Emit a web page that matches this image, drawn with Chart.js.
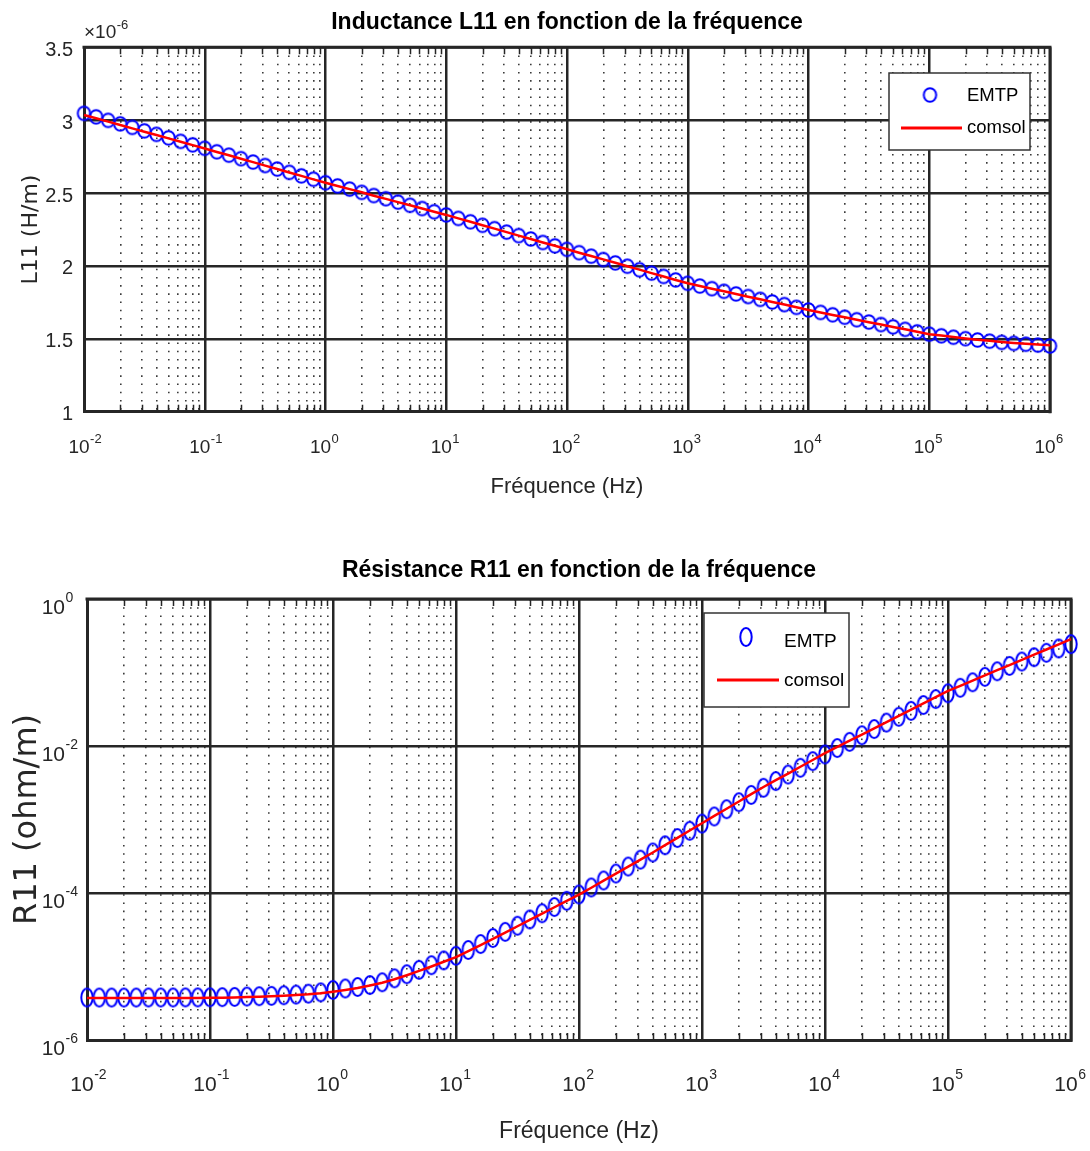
<!DOCTYPE html>
<html><head><meta charset="utf-8">
<script src="https://cdn.jsdelivr.net/npm/chart.js@4.4.1/dist/chart.umd.min.js"></script>
<style>
html,body{margin:0;padding:0;background:#fff;}
#wrap{position:relative;width:1090px;height:1151px;}
.box{position:absolute;left:0;width:1090px;}
#b1{top:0;height:520px;} #b2{top:520px;height:631px;}
</style></head><body>
<div id="wrap"><div class="box" id="b1"><canvas id="c1"></canvas></div><div class="box" id="b2"><canvas id="c2"></canvas></div></div>
<script>
// ---------- data ----------
const frequencies = [
  0.01, 0.01259, 0.01585, 0.01995, 0.02512, 0.03162, 0.03981, 0.05012, 0.0631, 0.07943,
  0.1, 0.1259, 0.1585, 0.1995, 0.2512, 0.3162, 0.3981, 0.5012, 0.631, 0.7943,
  1, 1.259, 1.585, 1.995, 2.512, 3.162, 3.981, 5.012, 6.31, 7.943,
  10, 12.59, 15.85, 19.95, 25.12, 31.62, 39.81, 50.12, 63.1, 79.43,
  100, 125.9, 158.5, 199.5, 251.2, 316.2, 398.1, 501.2, 631, 794.3,
  1000, 1259, 1585, 1995, 2512, 3162, 3981, 5012, 6310, 7943,
  10000, 12590, 15850, 19950, 25120, 31620, 39810, 50120, 63100, 79430,
  100000, 125900, 158500, 199500, 251200, 316200, 398100, 501200, 631000, 794300,
  1000000
];
// L11 in units of 1e-6 H/m
const emtpL11 = [
  3.047, 3.023, 2.999, 2.975, 2.951, 2.927, 2.903, 2.879, 2.855, 2.831,
  2.807, 2.783, 2.760, 2.736, 2.713, 2.689, 2.665, 2.642, 2.618, 2.595,
  2.571, 2.549, 2.527, 2.505, 2.483, 2.461, 2.438, 2.416, 2.394, 2.372,
  2.350, 2.326, 2.303, 2.279, 2.256, 2.232, 2.208, 2.185, 2.161, 2.138,
  2.114, 2.091, 2.067, 2.044, 2.021, 1.998, 1.974, 1.951, 1.928, 1.904,
  1.881, 1.862, 1.844, 1.826, 1.808, 1.790, 1.771, 1.753, 1.735, 1.716,
  1.698, 1.681, 1.665, 1.648, 1.631, 1.615, 1.598, 1.582, 1.565, 1.548,
  1.532, 1.521, 1.511, 1.501, 1.492, 1.484, 1.476, 1.469, 1.463, 1.457,
  1.451
];
const comsolL11 = [
  3.036, 3.013, 2.990, 2.967, 2.944, 2.921, 2.898, 2.875, 2.852, 2.829,
  2.806, 2.782, 2.759, 2.735, 2.712, 2.688, 2.665, 2.641, 2.618, 2.594,
  2.571, 2.549, 2.527, 2.505, 2.482, 2.460, 2.438, 2.416, 2.394, 2.372,
  2.350, 2.326, 2.303, 2.279, 2.256, 2.232, 2.208, 2.185, 2.161, 2.138,
  2.114, 2.091, 2.068, 2.045, 2.022, 1.998, 1.975, 1.951, 1.928, 1.904,
  1.881, 1.862, 1.844, 1.826, 1.808, 1.789, 1.771, 1.753, 1.735, 1.716,
  1.698, 1.681, 1.664, 1.648, 1.631, 1.614, 1.598, 1.581, 1.565, 1.548,
  1.532, 1.522, 1.512, 1.503, 1.494, 1.486, 1.479, 1.472, 1.466, 1.461,
  1.456
];
// R11 in ohm/m
const emtpR11 = [
  3.78e-6, 3.78e-6, 3.78e-6, 3.78e-6, 3.78e-6, 3.79e-6, 3.79e-6, 3.79e-6, 3.80e-6, 3.80e-6,
  3.81e-6, 3.83e-6, 3.86e-6, 3.90e-6, 3.94e-6, 3.99e-6, 4.06e-6, 4.15e-6, 4.27e-6, 4.45e-6,
  4.80e-6, 5.02e-6, 5.27e-6, 5.60e-6, 6.10e-6, 6.90e-6, 7.85e-6, 9.00e-6, 1.04e-5, 1.21e-5,
  1.40e-5, 1.68e-5, 2.02e-5, 2.44e-5, 2.96e-5, 3.59e-5, 4.36e-5, 5.30e-5, 6.44e-5, 7.83e-5,
  9.55e-5, 1.19e-4, 1.48e-4, 1.84e-4, 2.29e-4, 2.84e-4, 3.56e-4, 4.46e-4, 5.60e-4, 7.02e-4,
  8.79e-4, 1.10e-3, 1.38e-3, 1.72e-3, 2.16e-3, 2.70e-3, 3.33e-3, 4.09e-3, 5.05e-3, 6.22e-3,
  7.67e-3, 9.38e-3, 1.14e-2, 1.40e-2, 1.70e-2, 2.08e-2, 2.50e-2, 3.01e-2, 3.61e-2, 4.35e-2,
  5.22e-2, 6.19e-2, 7.36e-2, 8.73e-2, 0.1038, 0.1230, 0.1409, 0.1614, 0.1854, 0.2123,
  0.2432
];
const comsolR11 = [
  3.72e-6, 3.72e-6, 3.72e-6, 3.72e-6, 3.72e-6, 3.72e-6, 3.72e-6, 3.73e-6, 3.73e-6, 3.74e-6,
  3.75e-6, 3.77e-6, 3.80e-6, 3.84e-6, 3.88e-6, 3.93e-6, 4.00e-6, 4.08e-6, 4.19e-6, 4.34e-6,
  4.55e-6, 4.80e-6, 5.10e-6, 5.50e-6, 6.00e-6, 6.70e-6, 7.60e-6, 8.70e-6, 1.00e-5, 1.16e-5,
  1.34e-5, 1.62e-5, 1.96e-5, 2.38e-5, 2.90e-5, 3.53e-5, 4.30e-5, 5.25e-5, 6.40e-5, 7.80e-5,
  9.50e-5, 1.18e-4, 1.47e-4, 1.83e-4, 2.28e-4, 2.84e-4, 3.56e-4, 4.48e-4, 5.63e-4, 7.08e-4,
  8.90e-4, 1.12e-3, 1.40e-3, 1.76e-3, 2.21e-3, 2.77e-3, 3.43e-3, 4.22e-3, 5.22e-3, 6.45e-3,
  7.98e-3, 9.70e-3, 1.18e-2, 1.43e-2, 1.74e-2, 2.11e-2, 2.57e-2, 3.13e-2, 3.80e-2, 4.61e-2,
  5.61e-2, 6.59e-2, 7.76e-2, 9.12e-2, 0.1074, 0.1262, 0.1486, 0.1746, 0.2056, 0.2415,
  0.2844
];
const freqDecades = [1e-2, 1e-1, 1, 10, 100, 1e3, 1e4, 1e5, 1e6];
const minorMantissas = [2, 3, 4, 5, 6, 7, 8, 9];
const l11Ticks = [1, 1.5, 2, 2.5, 3, 3.5];
const r11Ticks = [1e-6, 1e-4, 1e-2, 1];
const seriesNames = ['EMTP', 'comsol'];

// ---------- helpers ----------
const SANS = "'Liberation Sans', Arial, sans-serif";
const WIDE = "'DejaVu Sans', Verdana, sans-serif";
const TXT = '#262626';
function expOf(v){ return Math.round(Math.log10(v)); }
function isDecade(v){ const l = Math.log10(v); return Math.abs(l - Math.round(l)) < 1e-9; }
const xTickValues = [];
freqDecades.forEach((d, i) => { xTickValues.push(d); if (i < freqDecades.length - 1) minorMantissas.forEach(m => xTickValues.push(m * d)); });

function ellipseMarker(rx, ry, lw, color){
  const c = document.createElement('canvas');
  c.width = Math.ceil(2*rx + lw + 2); c.height = Math.ceil(2*ry + lw + 2);
  const g = c.getContext('2d');
  g.strokeStyle = color; g.lineWidth = lw;
  g.beginPath(); g.ellipse(c.width/2, c.height/2, rx, ry, 0, 0, Math.PI*2); g.stroke();
  return c;
}

const matlabPlugin = {
  id: 'matlab',
  beforeDatasetsDraw(chart, args, o){
    const {ctx, chartArea: a, scales} = chart;
    ctx.save();
    ctx.strokeStyle = TXT; ctx.lineWidth = 1.5;
    scales.x.ticks.forEach(t => {
      if (t.major) return;
      const px = Math.round(scales.x.getPixelForValue(t.value)) + 0.5;
      ctx.beginPath();
      ctx.moveTo(px, a.bottom); ctx.lineTo(px, a.bottom - 7);
      ctx.moveTo(px, a.top); ctx.lineTo(px, a.top + 7);
      ctx.stroke();
    });
    ctx.lineWidth = 3; ctx.strokeStyle = TXT;
    ctx.beginPath(); ctx.moveTo(a.left - 1.5, a.top); ctx.lineTo(a.right, a.top); ctx.lineTo(a.right, a.bottom + 1.5); ctx.stroke();
    ctx.restore();
  },
  afterDraw(chart, args, o){
    const ctx = chart.ctx;
    const sx = chart.scales.x, sy = chart.scales.y;
    ctx.save();
    ctx.fillStyle = TXT; ctx.textBaseline = 'middle'; ctx.textAlign = 'left';
    // superscript exponents of the x tick labels "10"
    if (o.xExp) {
      const e = o.xExp, xt = sx.options.ticks;
      ctx.font = e.base + 'px ' + SANS;
      const w10 = ctx.measureText('10').width;
      const midY = sx.top + xt.padding + e.base * 1.2 / 2;
      ctx.font = e.size + 'px ' + SANS;
      sx.ticks.forEach(t => {
        if (!isDecade(t.value)) return;
        const cx = sx.getPixelForValue(t.value) + xt.labelOffset;
        ctx.fillText(String(expOf(t.value)), cx + w10 / 2 + 0.5, midY - e.rise);
      });
    }
    if (o.yExp) {
      const e = o.yExp, yt = sy.options.ticks;
      ctx.font = e.size + 'px ' + SANS;
      const rx = sy.right - yt.padding;
      sy.ticks.forEach(t => {
        const py = sy.getPixelForValue(t.value) + yt.labelOffset;
        ctx.fillText(String(expOf(t.value)), rx + 0.5, py - e.rise);
      });
    }
    if (o.exponent) {
      const e = o.exponent;
      ctx.font = e.base + 'px ' + SANS;
      ctx.fillText('\u00D710', e.x, e.y);
      const w = ctx.measureText('\u00D710').width;
      ctx.font = e.size + 'px ' + SANS;
      ctx.fillText(e.text, e.x + w + 0.5, e.y - e.rise);
    }
    const L = o.legend;
    if (L) {
      ctx.fillStyle = '#fff'; ctx.fillRect(L.x, L.y, L.w, L.h);
      ctx.strokeStyle = '#333'; ctx.lineWidth = 1.5; ctx.strokeRect(L.x, L.y, L.w, L.h);
      const ds = chart.data.datasets;
      const img = ds[0].pointStyle;
      ctx.drawImage(img, L.mx - img.width/2, L.my - img.height/2);
      ctx.strokeStyle = ds[1].borderColor; ctx.lineWidth = 3;
      ctx.beginPath(); ctx.moveTo(L.lx1, L.ly); ctx.lineTo(L.lx2, L.ly); ctx.stroke();
      ctx.fillStyle = '#000'; ctx.font = L.font; ctx.textBaseline = 'middle'; ctx.textAlign = 'left';
      ctx.fillText(ds[0].label, L.tx, L.ty1);
      ctx.fillText(ds[1].label, L.tx2, L.ty2);
    }
    ctx.restore();
  }
};

function xAxis(o){
  return {
    type: 'logarithmic', min: 1e-2, max: 1e6,
    afterBuildTicks: s => { s.ticks = xTickValues.map(v => ({value: v, major: isDecade(v)})); },
    afterFit: s => { s.height = o.height; s.paddingLeft = 0; s.paddingRight = 0; },
    ticks: { autoSkip: false, maxRotation: 0, minRotation: 0, color: TXT, padding: o.tickPad, labelOffset: -5,
      font: {family: SANS, size: o.tickSize, lineHeight: 1.2},
      callback: v => isDecade(v) ? '10' : '' },
    grid: { drawTicks: false,
      color: c => (c.tick && c.tick.major) ? '#262626' : '#3a3a3a',
      lineWidth: c => (c.tick && c.tick.major) ? 2.5 : 1.6 },
    border: { display: true, color: TXT, width: 3,
      dash: c => (c.tick && !c.tick.major) ? [1.6, 6.6] : [] },
    title: { display: true, text: 'Fréquence (Hz)', color: TXT,
      font: {family: SANS, size: o.titleSize, lineHeight: 1.2}, padding: {top: 0, bottom: o.titlePad} }
  };
}

// ---------- top chart ----------
const mk1 = ellipseMarker(6.2, 6.8, 2, '#0000ff');
new Chart(document.getElementById('c1'), {
  type: 'scatter',
  data: { datasets: [
    { label: seriesNames[0], data: frequencies.map((f, i) => ({x: f, y: emtpL11[i]})),
      pointStyle: mk1, pointRadius: 6, borderColor: '#0000ff', backgroundColor: 'transparent', showLine: false, clip: false, order: 2 },
    { label: seriesNames[1], data: frequencies.map((f, i) => ({x: f, y: comsolL11[i]})),
      showLine: true, pointRadius: 0, borderColor: '#ff0000', borderWidth: 2.5, clip: false, order: 1 }
  ]},
  options: {
    responsive: true, maintainAspectRatio: false, animation: false,
    layout: { padding: {left: 0, right: 40, top: 0, bottom: 0} },
    plugins: {
      legend: {display: false}, tooltip: {enabled: false},
      title: { display: true, fullSize: false, text: 'Inductance L11 en fonction de la fréquence', color: '#000',
        font: {family: SANS, size: 23, weight: 'bold', lineHeight: 1.2}, padding: {top: 9.2, bottom: 10.5} },
      matlab: {
        xExp: {base: 19, size: 13, rise: 8},
        exponent: {text: '-6', x: 84, y: 33, base: 19, size: 13, rise: 8},
        legend: {x: 889, y: 73, w: 141, h: 77, mx: 930, my: 95, lx1: 901, lx2: 962, ly: 128,
          tx: 967, ty1: 96, tx2: 967, ty2: 128, font: "18.5px " + SANS} }
    },
    scales: {
      x: xAxis({height: 108.3, tickPad: 24.5, tickSize: 19, titleSize: 22, titlePad: 20}),
      y: {
        type: 'linear', min: 1, max: 3.5,
        afterBuildTicks: s => { s.ticks = l11Ticks.map(v => ({value: v})); },
        afterFit: s => { s.width = 84; },
        ticks: { color: TXT, padding: 11, labelOffset: 3, font: {family: SANS, size: 20},
          callback: v => String(v) },
        grid: { drawTicks: false, color: '#262626', lineWidth: 2.5 },
        border: { display: true, color: TXT, width: 3 },
        title: { display: true, text: 'L11 (H/m)', color: TXT, font: {family: WIDE, size: 22, lineHeight: 1.2},
          padding: {top: 17.8, bottom: 0} }
      }
    }
  },
  plugins: [matlabPlugin]
});

// ---------- bottom chart ----------
const mk2 = ellipseMarker(5.7, 9, 2, '#0000ff');
new Chart(document.getElementById('c2'), {
  type: 'scatter',
  data: { datasets: [
    { label: seriesNames[0], data: frequencies.map((f, i) => ({x: f, y: emtpR11[i]})),
      pointStyle: mk2, pointRadius: 6, borderColor: '#0000ff', backgroundColor: 'transparent', showLine: false, clip: false, order: 2 },
    { label: seriesNames[1], data: frequencies.map((f, i) => ({x: f, y: comsolR11[i]})),
      showLine: true, pointRadius: 0, borderColor: '#ff0000', borderWidth: 2.5, clip: false, order: 1 }
  ]},
  options: {
    responsive: true, maintainAspectRatio: false, animation: false,
    layout: { padding: {left: 0, right: 19, top: 0, bottom: 0} },
    plugins: {
      legend: {display: false}, tooltip: {enabled: false},
      title: { display: true, fullSize: false, text: 'Résistance R11 en fonction de la fréquence', color: '#000',
        font: {family: SANS, size: 23, weight: 'bold', lineHeight: 1.2}, padding: {top: 37.2, bottom: 14.2} },
      matlab: {
        xExp: {base: 21, size: 14, rise: 10},
        yExp: {size: 14, rise: 10},
        legend: {x: 704, y: 93, w: 145, h: 94, mx: 746, my: 117, lx1: 717, lx2: 779, ly: 160,
          tx: 784, ty1: 122, tx2: 784, ty2: 161, font: "19px " + SANS} }
    },
    scales: {
      x: xAxis({height: 111, tickPad: 32.4, tickSize: 21, titleSize: 23, titlePad: 5.2}),
      y: {
        type: 'logarithmic', min: 1e-6, max: 1,
        afterBuildTicks: s => { s.ticks = r11Ticks.map(v => ({value: v, major: true})); },
        afterFit: s => { s.width = 87; },
        ticks: { color: TXT, padding: 22, labelOffset: 9, font: {family: SANS, size: 21},
          callback: v => '10' },
        grid: { drawTicks: false, color: '#262626', lineWidth: 2.5 },
        border: { display: true, color: TXT, width: 3 },
        title: { display: true, text: 'R11 (ohm/m)', color: TXT, font: {family: WIDE, size: 32, lineHeight: 1.2},
          padding: {top: 8, bottom: 0} }
      }
    }
  },
  plugins: [matlabPlugin]
});
</script>
</body></html>
